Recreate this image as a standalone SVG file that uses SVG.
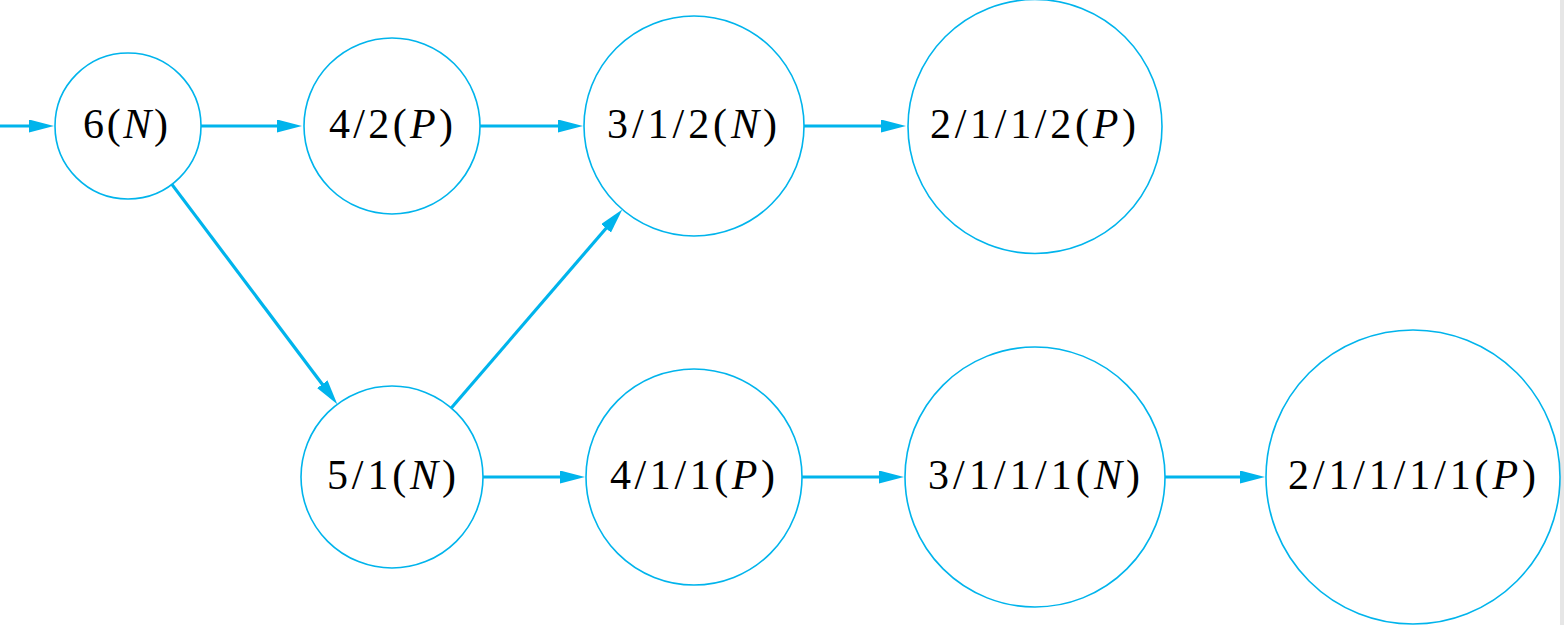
<svg xmlns="http://www.w3.org/2000/svg" width="1564" height="625" viewBox="0 0 1564 625">
<defs>
<style>
.node circle{fill:#fff;stroke:#00B4EC;stroke-width:1.6}
.node text{font-family:"Liberation Serif","Times New Roman",serif;font-size:42px;fill:#000}
.it{font-style:italic}
#edges line{stroke:#00B4EC;stroke-width:3.2;marker-end:url(#ah)}
</style>
<marker id="ah" markerUnits="userSpaceOnUse" markerWidth="26" markerHeight="14" refX="15" refY="6.5" orient="auto">
<path d="M0,0 L25,6.5 L0,13 Z" fill="#00B4EC"/>
</marker>
</defs>
<rect width="1564" height="625" fill="#fff"/>
<rect x="1560" y="0" width="4" height="625" fill="#e6e6e6"/>
<g id="edges">
<line x1="0" y1="126" x2="44" y2="126"/>
<line x1="201" y1="126" x2="292" y2="126"/>
<line x1="480" y1="126" x2="573" y2="126"/>
<line x1="804" y1="126" x2="896" y2="126"/>
<line x1="171.9" y1="184.4" x2="331.3" y2="396.2"/>
<line x1="451.3" y1="408" x2="615.8" y2="217"/>
<line x1="483" y1="477" x2="575" y2="477"/>
<line x1="802" y1="477" x2="894" y2="477"/>
<line x1="1165" y1="477" x2="1255" y2="477"/>
</g>
<g id="n6N" class="node"><circle cx="128" cy="126" r="73"/><text x="83" y="138" textLength="85" lengthAdjust="spacing">6(<tspan class="it">N</tspan>)</text></g>
<g id="n42P" class="node"><circle cx="392" cy="126" r="88"/><text x="329" y="138" textLength="124" lengthAdjust="spacing">4/2(<tspan class="it">P</tspan>)</text></g>
<g id="n312N" class="node"><circle cx="694" cy="126" r="110"/><text x="607" y="138" textLength="170" lengthAdjust="spacing">3/1/2(<tspan class="it">N</tspan>)</text></g>
<g id="n2112P" class="node"><circle cx="1035" cy="126.5" r="127"/><text x="930" y="138" textLength="206" lengthAdjust="spacing">2/1/1/2(<tspan class="it">P</tspan>)</text></g>
<g id="n51N" class="node"><circle cx="392" cy="477" r="91"/><text x="327" y="489" textLength="129" lengthAdjust="spacing">5/1(<tspan class="it">N</tspan>)</text></g>
<g id="n411P" class="node"><circle cx="694" cy="477" r="108"/><text x="610" y="489" textLength="165" lengthAdjust="spacing">4/1/1(<tspan class="it">P</tspan>)</text></g>
<g id="n3111N" class="node"><circle cx="1035" cy="477" r="130"/><text x="928" y="489" textLength="212" lengthAdjust="spacing">3/1/1/1(<tspan class="it">N</tspan>)</text></g>
<g id="n21111P" class="node"><circle cx="1413" cy="477" r="147"/><text x="1288" y="489" textLength="248" lengthAdjust="spacing">2/1/1/1/1(<tspan class="it">P</tspan>)</text></g>
</svg>
